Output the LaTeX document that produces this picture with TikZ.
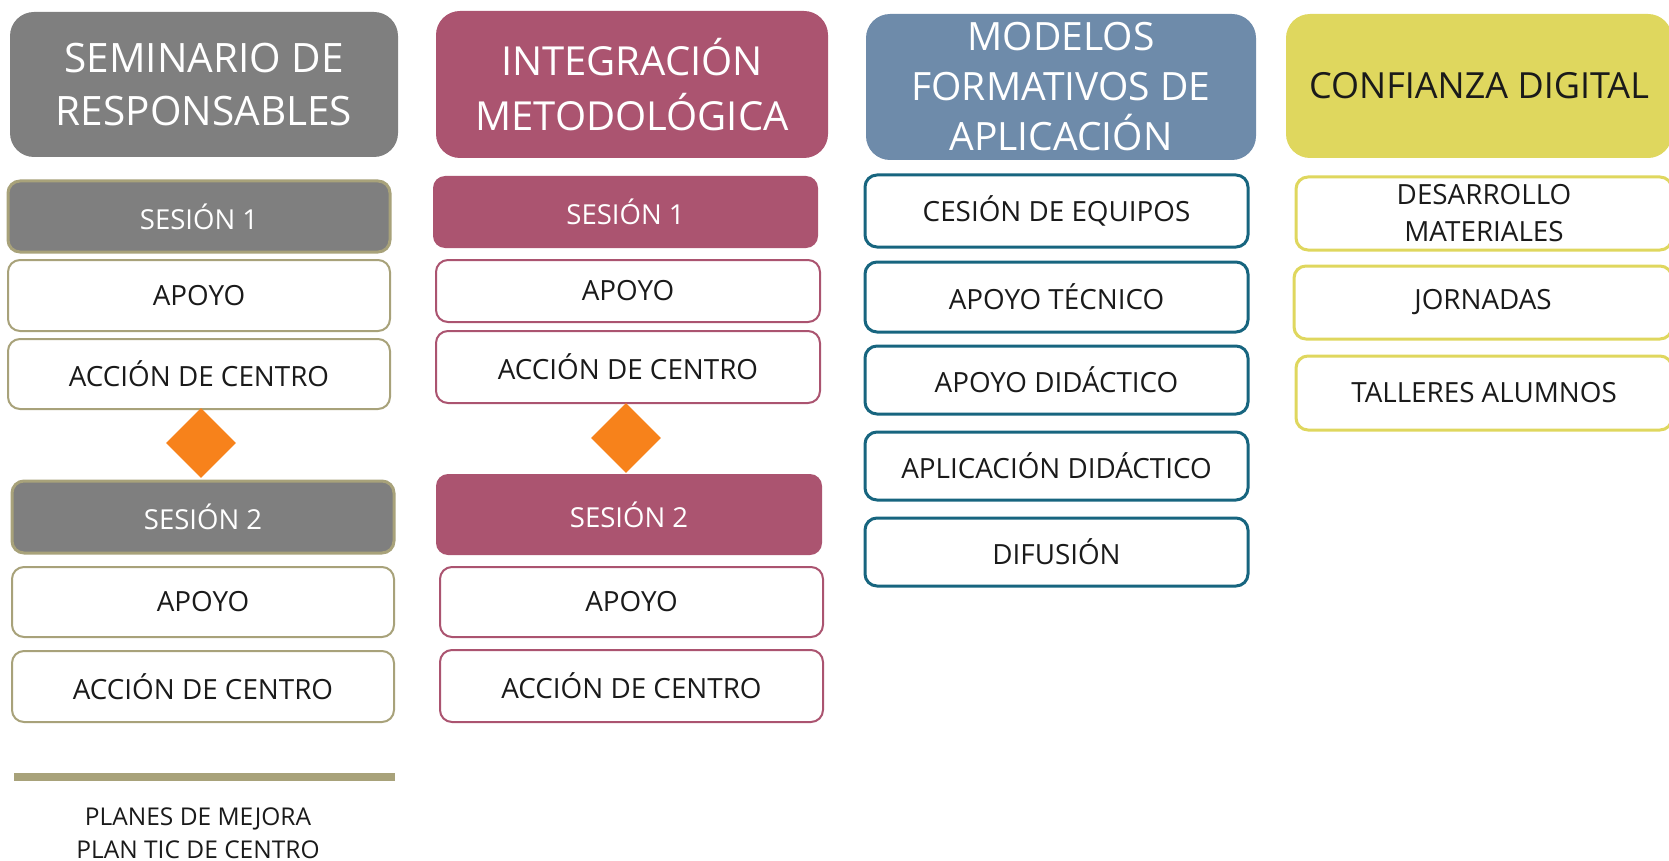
\documentclass[tikz,border=0pt]{standalone}
\usepackage{fontspec}
\setmainfont{Open Sans}
\usetikzlibrary{shapes.geometric}
\definecolor{cgray}{HTML}{7F7F7F}
\definecolor{cmag}{HTML}{AB5470}
\definecolor{cblue}{HTML}{6E8BAA}
\definecolor{cyel}{HTML}{DFD75E}
\definecolor{corange}{HTML}{F7821B}
\definecolor{colive}{HTML}{A8A27A}
\definecolor{cteal}{HTML}{17657F}
\definecolor{ctext}{HTML}{1A1A1A}
\tikzset{
  hdr/.style={rounded corners=24, inner sep=0, align=center, text=white,
    font=\fontsize{40.5}{53}\selectfont},
  bx/.style={rounded corners=12, inner sep=0, align=center, fill=white, text=ctext,
    font=\fontsize{27.8}{37}\selectfont},
  sess/.style={rounded corners=12, inner sep=0, align=center, text=white,
    font=\fontsize{27.5}{30}\selectfont},
  dia/.style={diamond, aspect=1, fill=corange, inner sep=0, minimum width=70, minimum height=70},
}
\begin{document}
\begin{tikzpicture}[x=1pt,y=-1pt]
\useasboundingbox (0,0) rectangle (1669,861);
\clip (0,0) rectangle (1669,861);
% column 1
\node[hdr, fill=cgray, minimum width=388, minimum height=145] (h1) at (204,84.5) {SEMINARIO DE\\RESPONSABLES};
\node[sess, fill=cgray, draw=colive, line width=3, minimum width=382, minimum height=71] (s1a) at (199,216.5) {SESIÓN 1};
\node[bx, draw=colive, line width=2, minimum width=382, minimum height=71] (a1a) at (199,295.5) {APOYO};
\node[bx, draw=colive, line width=2, minimum width=382, minimum height=70] (c1a) at (199,374) {ACCIÓN DE CENTRO};
\node[dia] (d1) at (201,443) {};
\node[sess, fill=cgray, draw=colive, line width=3, minimum width=382, minimum height=72] (s1b) at (203,517) {SESIÓN 2};
\node[bx, draw=colive, line width=2, minimum width=382, minimum height=70] (a1b) at (203,602) {APOYO};
\node[bx, draw=colive, line width=2, minimum width=382, minimum height=71] (c1b) at (203,686.5) {ACCIÓN DE CENTRO};
\coordinate (l1) at (14,777);
\coordinate (l2) at (395,777);
\draw[colive, line width=8] (l1) -- (l2);
\node[align=center, text=ctext, font=\fontsize{24.5}{33}\selectfont, inner sep=0] (plan) at (198,833) {PLANES DE MEJORA\\PLAN TIC DE CENTRO};
% column 2
\node[hdr, fill=cmag, minimum width=392, minimum height=147, font=\fontsize{40}{55}\selectfont] (h2) at (632,84.5) {INTEGRACIÓN\\METODOLÓGICA};
\node[sess, fill=cmag, minimum width=385, minimum height=72] (s2a) at (625.5,212) {SESIÓN 1};
\node[bx, draw=cmag, line width=2, minimum width=384, minimum height=62] (a2a) at (628,291) {APOYO};
\node[bx, draw=cmag, line width=2, minimum width=384, minimum height=72] (c2a) at (628,367) {ACCIÓN DE CENTRO};
\node[dia] (d2) at (626,438) {};
\node[sess, fill=cmag, minimum width=386, minimum height=81] (s2b) at (629,514.5) {SESIÓN 2};
\node[bx, draw=cmag, line width=2, minimum width=383, minimum height=70] (a2b) at (631.5,602) {APOYO};
\node[bx, draw=cmag, line width=2, minimum width=383, minimum height=72] (c2b) at (631.5,686) {ACCIÓN DE CENTRO};
% column 3
\node[hdr, fill=cblue, minimum width=390, minimum height=146, font=\fontsize{39}{50}\selectfont] (h3) at (1061,87) {MODELOS\\FORMATIVOS DE\\APLICACIÓN};
\node[bx, draw=cteal, line width=3, minimum width=383, minimum height=72] (e1) at (1056.5,211) {CESIÓN DE EQUIPOS};
\node[bx, draw=cteal, line width=3, minimum width=383, minimum height=70] (e2) at (1056.5,297) {APOYO TÉCNICO};
\node[bx, draw=cteal, line width=3, minimum width=383, minimum height=68] (e3) at (1056.5,380) {APOYO DIDÁCTICO};
\node[bx, draw=cteal, line width=3, minimum width=383, minimum height=68] (e4) at (1056.5,466) {APLICACIÓN DIDÁCTICO};
\node[bx, draw=cteal, line width=3, minimum width=383, minimum height=68] (e5) at (1056.5,552) {DIFUSIÓN};
% column 4
\node[hdr, fill=cyel, text=ctext, minimum width=386, minimum height=144, font=\fontsize{36}{50}\selectfont] (h4) at (1479,86) {CONFIANZA DIGITAL};
\node[bx, draw=cyel, line width=3, minimum width=376, minimum height=73] (f1) at (1484,213.5) {DESARROLLO\\MATERIALES};
\node[bx, draw=cyel, line width=3, minimum width=378, minimum height=73] (f2) at (1483,302.5) {JORNADAS};
\node[bx, draw=cyel, line width=3, minimum width=376, minimum height=74] (f3) at (1484,393) {TALLERES ALUMNOS};
\end{tikzpicture}
\end{document}
